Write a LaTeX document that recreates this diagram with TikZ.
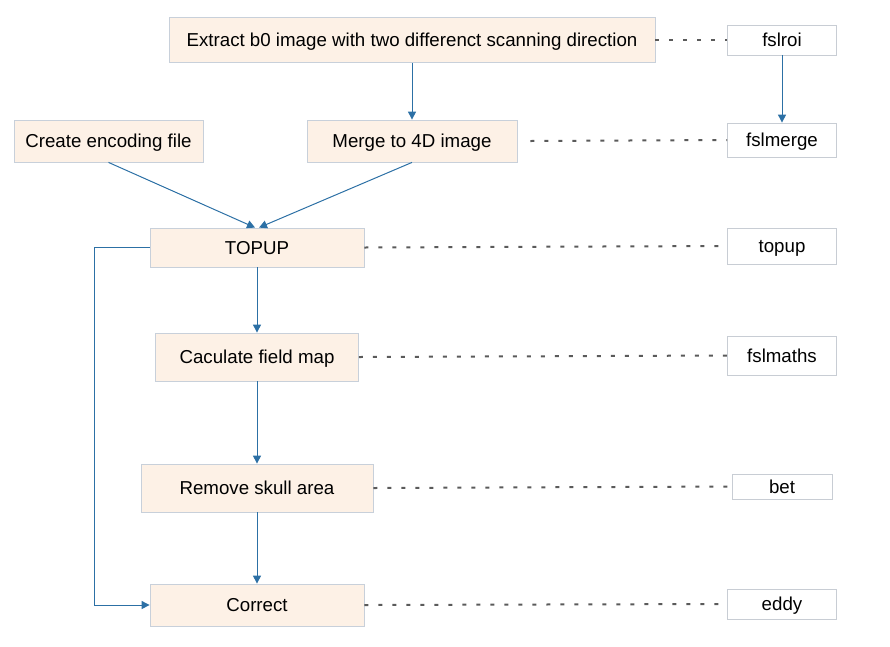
\documentclass[tikz,border=0pt]{standalone}
\usepackage{fontspec}
\setmainfont{Liberation Sans}
\usetikzlibrary{arrows.meta}
\definecolor{stepfill}{RGB}{253,241,230}
\definecolor{stepline}{RGB}{200,208,218}
\definecolor{toolline}{RGB}{200,205,212}
\definecolor{flowblue}{RGB}{44,112,165}
\definecolor{dotgray}{RGB}{90,90,90}
\begin{document}
\begin{tikzpicture}[x=1pt,y=-1pt,font=\fontsize{18.7}{22}\selectfont,
	stepbox/.style={draw=stepline,fill=stepfill,line width=0.8pt,inner sep=0pt,text height=13.5pt,text depth=0pt},
	toolbox/.style={draw=toolline,fill=white,line width=0.8pt,inner sep=0pt,minimum width=109pt,text height=13.5pt,text depth=0pt},
	flow/.style={draw=flowblue,line width=1pt,-{Triangle[width=8pt,length=8pt]}},
	link/.style={draw=dotgray,line width=2pt,dash pattern=on 4pt off 10pt}]
	\useasboundingbox (0,0) rectangle (890,646);
	%%% steps
	\node[stepbox,minimum width=486pt,minimum height=45pt] (extract) at (412,40) {Extract b0 image with two differenct scanning direction};
	\node[stepbox,minimum width=189pt,minimum height=42pt] (encode) at (108.5,141) {Create encoding file};
	\node[stepbox,minimum width=210pt,minimum height=42pt] (merge) at (412,141) {Merge to 4D image};
	\node[stepbox,minimum width=214pt,minimum height=39pt] (topup) at (257,247.5) {TOPUP};
	\node[stepbox,minimum width=203pt,minimum height=48pt] (fmap) at (257,357) {Caculate field map};
	\node[stepbox,minimum width=232pt,minimum height=48pt] (skull) at (257,488) {Remove skull area};
	\node[stepbox,minimum width=214pt,minimum height=42pt] (correct) at (257,605) {Correct};
	%%% tools
	\node[toolbox,minimum height=30pt] (fslroi) at (782,40) {fslroi};
	\node[toolbox,minimum height=34pt] (fslmerge) at (782,140) {fslmerge};
	\node[toolbox,minimum height=36pt] (topuptool) at (782,246) {topup};
	\node[toolbox,minimum height=39pt] (fslmaths) at (782,355.5) {fslmaths};
	\node[toolbox,minimum width=100pt,minimum height=25pt] (bet) at (782,486.5) {bet};
	\node[toolbox,minimum height=30pt] (eddy) at (782,604) {eddy};
	%%% flow
	\draw[flow] (extract.south) -- (merge.north);
	\draw[flow] (fslroi.south) -- (fslmerge.north);
	\draw[flow] (encode.south) -- ([xshift=-2pt]topup.north);
	\draw[flow] (merge.south) -- ([xshift=2pt]topup.north);
	\draw[flow] (topup) -- (fmap);
	\draw[flow] (fmap) -- (skull);
	\draw[flow] (skull) -- (correct);
	\draw[flow] (topup.west) -- ++(-55,0) |- (correct.west);
	%%% dotted links
	\draw[link] (extract.east) -- (fslroi.west);
	\draw[link] ([xshift=13pt]merge.east) -- (fslmerge.west);
	\draw[link] (topup.east) -- ([xshift=-7pt]topuptool.west);
	\draw[link] (fmap.east) -- (fslmaths.west);
	\draw[link] (skull.east) -- (bet.west);
	\draw[link] (correct.east) -- ([xshift=-7pt]eddy.west);
\end{tikzpicture}
\end{document}
